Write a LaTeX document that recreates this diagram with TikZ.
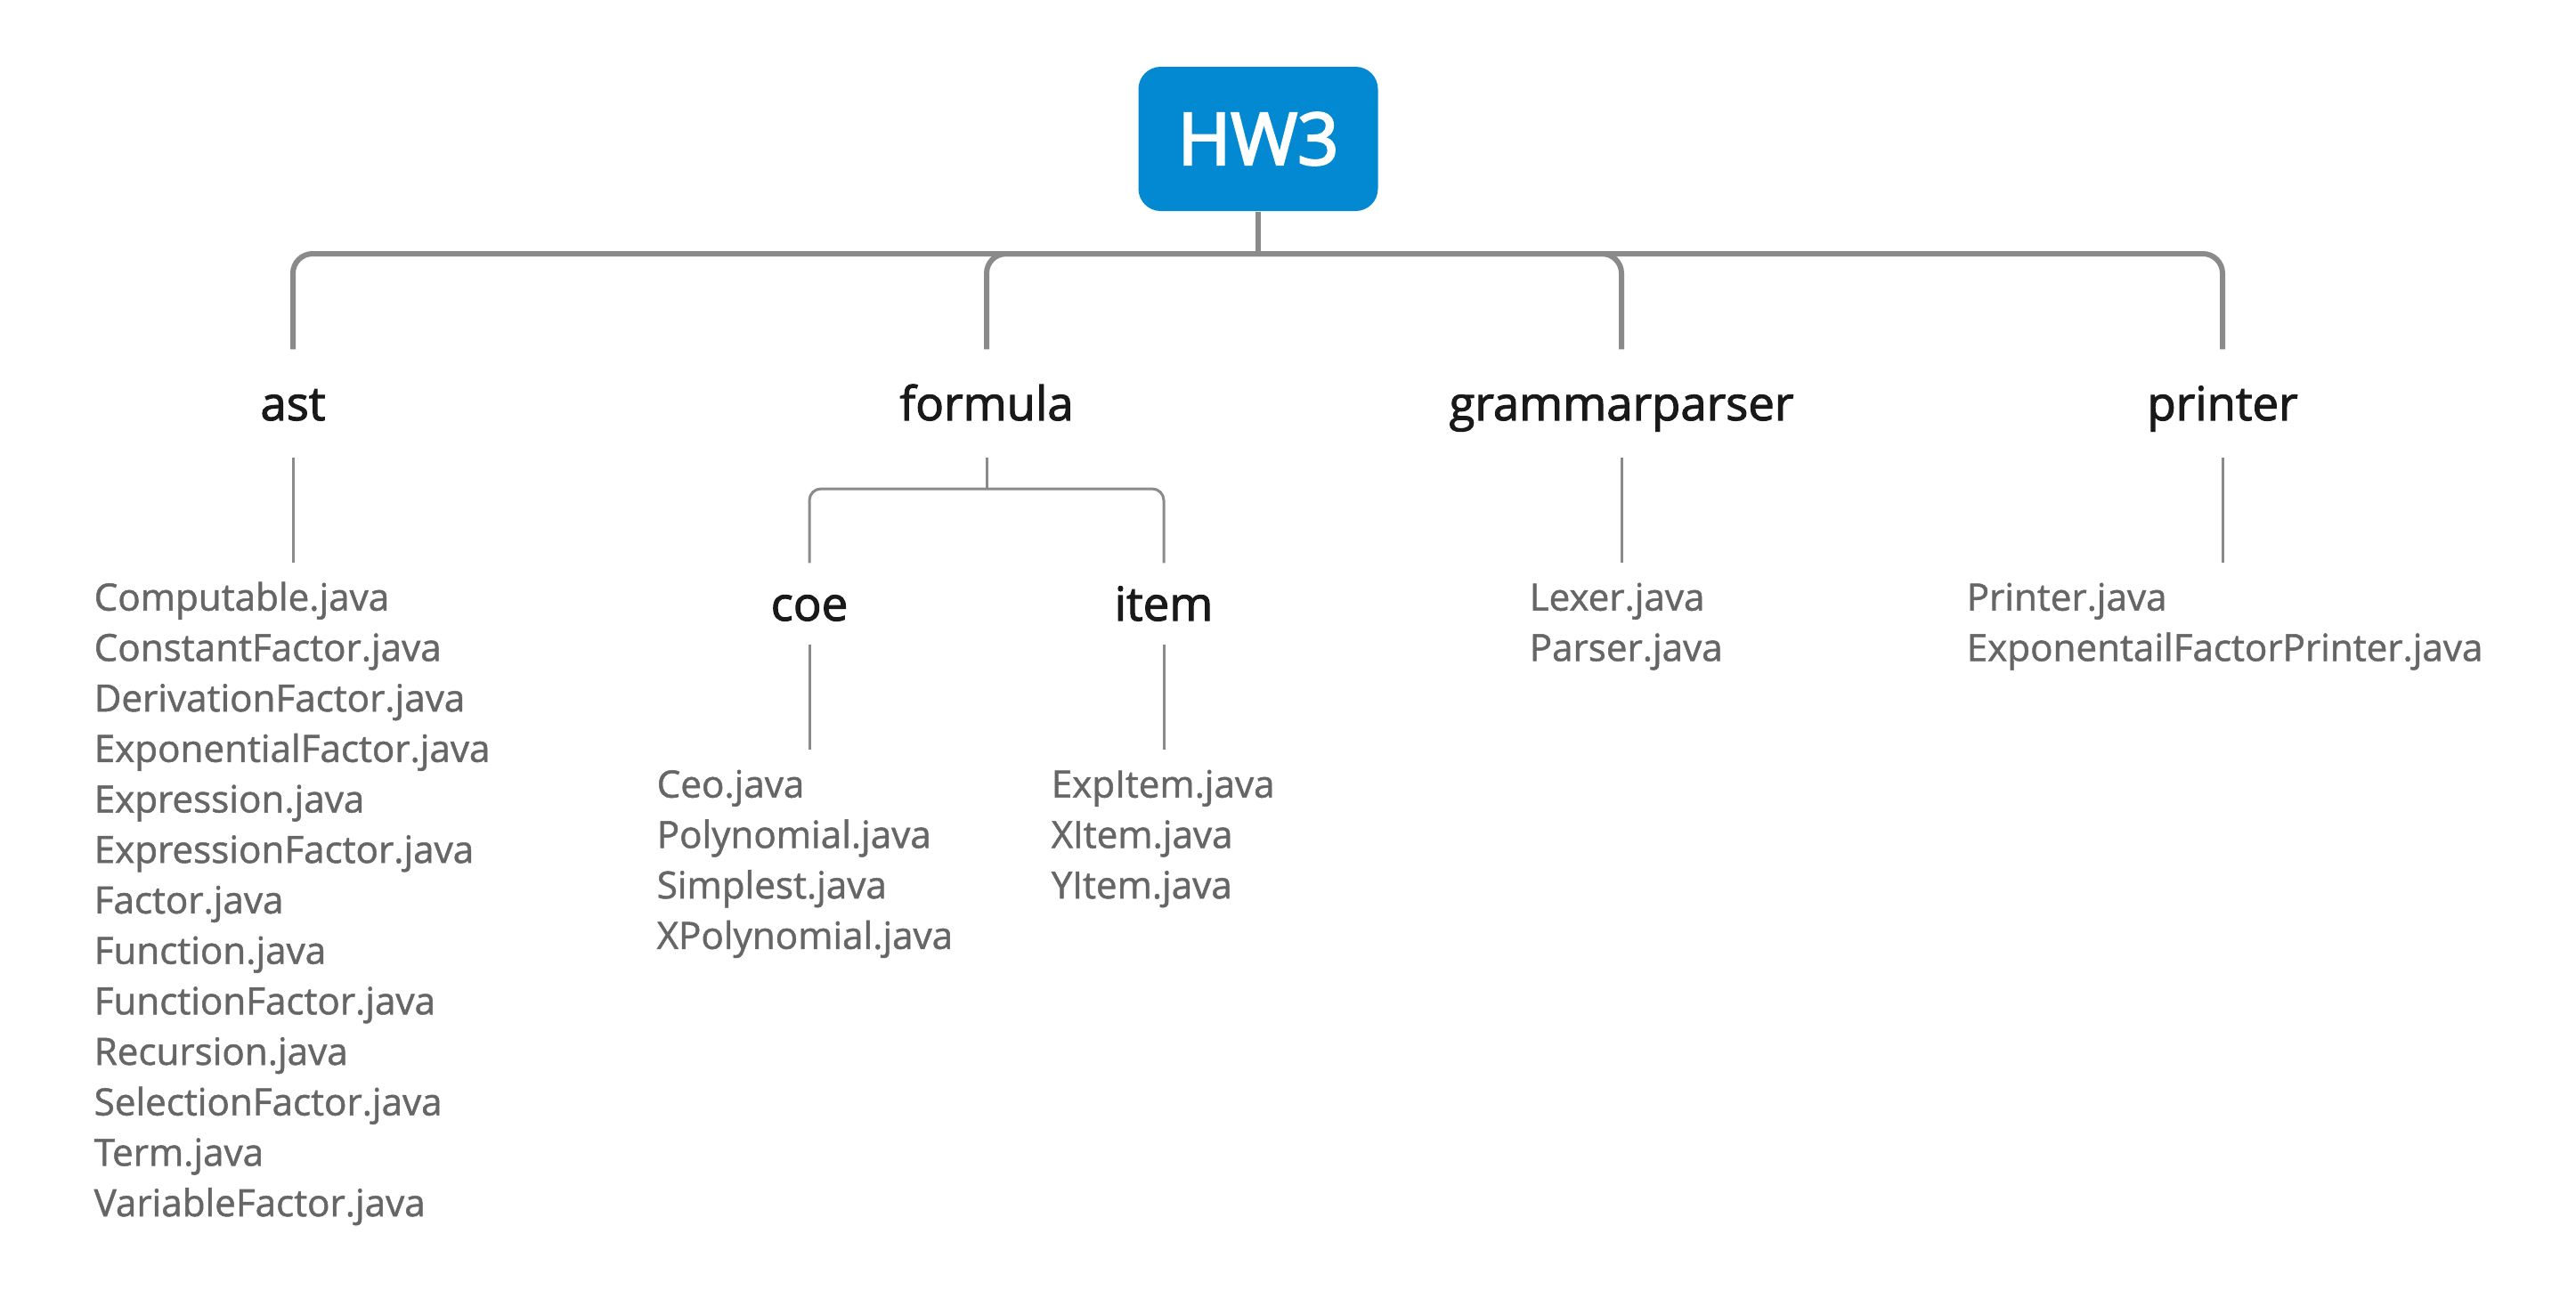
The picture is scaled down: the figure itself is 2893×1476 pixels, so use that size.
\documentclass[tikz,border=0pt]{standalone}
\usepackage{fontspec}
\setmainfont{Open Sans}
\newfontfamily\rootfont{Open Sans}[FakeBold=3.0]
\newfontfamily\headfont{Open Sans}[FakeBold=2.0]
\newfontfamily\filefont{Open Sans}[FakeBold=1.2]
\usepackage{xcolor}
\usepackage{tikz}
\usetikzlibrary{
    positioning,
    calc
}
\definecolor{hwblue}{RGB}{2,137,209}
\definecolor{linegray}{RGB}{138,138,138}
\definecolor{filegray}{RGB}{102,102,102}
\tikzset{
    root/.style={
        fill=hwblue,
        text=white,
        rounded corners=2.5mm,
        minimum width=26.9mm,
        minimum height=16.2mm,
        font=\rootfont\fontsize{23pt}{28pt}\selectfont
    }
}
\tikzset{
    branch/.style={
        text=black!90,
        inner sep=0pt,
        text height=7.9mm,
        text depth=4.1mm,
        font=\headfont\fontsize{15pt}{18pt}\selectfont
    }
}
\tikzset{
    subbranch/.style={
        branch,
        text height=6.4mm,
        text depth=2.6mm
    }
}
\tikzset{
    filelist/.style={
        anchor=north west,
        text=filegray,
        inner sep=0pt,
        text height=5.3mm,
        text width=70mm,
        align=left,
        font=\filefont\fontsize{12pt}{5.67mm}\selectfont
    }
}
\tikzset{
    trunk/.style={
        draw=linegray,
        line width=0.6mm,
        rounded corners=2.2mm
    }
}
\tikzset{
    twig/.style={
        draw=linegray,
        line width=0.3mm
    }
}
\tikzset{
    sublink/.style={
        twig,
        rounded corners=1.3mm
    }
}

\begin{document}
\begin{tikzpicture}[
    x=0.1mm,
    y=-0.1mm
]
\useasboundingbox (0,0) rectangle (2893,1476);

\node[root] (hw3) at (1413,156) {HW3};

\node[branch, anchor=base] (ast) at (329,472) {ast};
\node[branch, anchor=base] (formula) at (1108,472) {formula};
\node[branch, anchor=base] (grammarparser) at (1821,472) {grammarparser};
\node[branch, anchor=base] (printer) at (2496,472) {printer};

\node[subbranch, anchor=base] (coe) at (909,697) {coe};
\node[subbranch, anchor=base] (item) at (1307,697) {item};

\node[filelist] (astfiles) at (105,632)
    {Computable.java\\
     ConstantFactor.java\\
     DerivationFactor.java\\
     ExponentialFactor.java\\
     Expression.java\\
     ExpressionFactor.java\\
     Factor.java\\
     Function.java\\
     FunctionFactor.java\\
     Recursion.java\\
     SelectionFactor.java\\
     Term.java\\
     VariableFactor.java};
\node[filelist] (coefiles) at (737,842)
    {Ceo.java\\
     Polynomial.java\\
     Simplest.java\\
     XPolynomial.java};
\node[filelist] (itemfiles) at (1180,842)
    {ExpItem.java\\
     XItem.java\\
     YItem.java};
\node[filelist] (parserfiles) at (1717,632)
    {Lexer.java\\
     Parser.java};
\node[filelist] (printerfiles) at (2208,632)
    {Printer.java\\
     ExponentailFactorPrinter.java};

\coordinate (bar) at (1413,285);
\coordinate (fork) at (1108,549);

\draw[trunk] (hw3.south) -- (hw3.south |- bar);
\draw[trunk] (hw3.south |- bar) -| (ast.north);
\draw[trunk] (hw3.south |- bar) -| (formula.north);
\draw[trunk] (hw3.south |- bar) -| (grammarparser.north);
\draw[trunk] (hw3.south |- bar) -| (printer.north);

\draw[twig] (formula.south) -- (formula.south |- fork);
\draw[sublink] (formula.south |- fork) -| (coe.north);
\draw[sublink] (formula.south |- fork) -| (item.north);

\draw[twig] (ast.south) -- (ast.south |- astfiles.north);
\draw[twig] (coe.south) -- (coe.south |- coefiles.north);
\draw[twig] (item.south) -- (item.south |- itemfiles.north);
\draw[twig] (grammarparser.south) -- (grammarparser.south |- parserfiles.north);
\draw[twig] (printer.south) -- (printer.south |- printerfiles.north);

\end{tikzpicture}
\end{document}
